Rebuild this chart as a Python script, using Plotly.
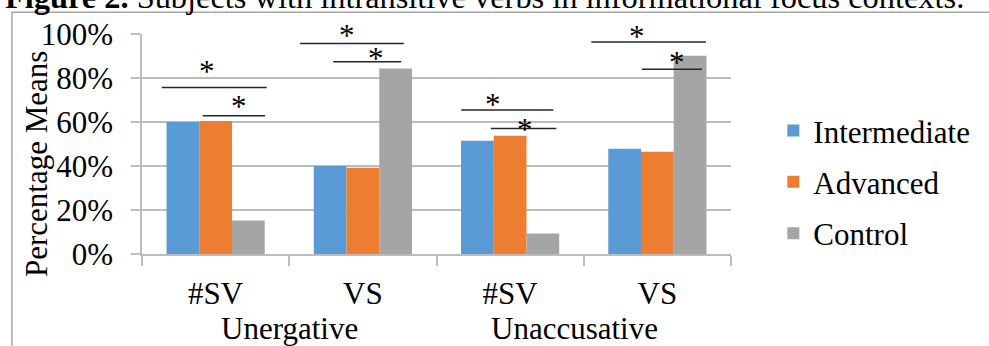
import plotly.graph_objects as go

# Category positions and labels
positions = [0, 1, 2, 3]
order_labels = ["#SV", "VS", "#SV", "VS"]
verb_types = ["Unergative", "Unaccusative"]

# Percentage means per proficiency group
intermediate = [0.60, 0.40, 0.515, 0.478]
advanced = [0.605, 0.392, 0.538, 0.465]
control = [0.152, 0.843, 0.093, 0.901]

series = [
    ("Intermediate", intermediate, "#5B9BD5"),
    ("Advanced", advanced, "#ED7D31"),
    ("Control", control, "#A5A5A5"),
]

# Significance brackets: (x start, x end, y level, asterisk x, asterisk y)
brackets = [
    (-0.366, 0.347, 0.757, -0.058, 0.850),
    (-0.088, 0.336, 0.628, 0.159, 0.690),
    (0.574, 1.278, 0.957, 0.893, 1.010),
    (0.798, 1.260, 0.874, 1.090, 0.906),
    (1.668, 2.293, 0.655, 1.885, 0.700),
    (1.869, 2.313, 0.570, 2.102, 0.582),
    (2.551, 3.330, 0.964, 2.861, 1.008),
    (2.895, 3.303, 0.840, 3.135, 0.887),
]

FONT = "Liberation Serif"
GRID = "#bdbdbd"
W, H = 989, 346
ML, MR, MT, MB = 142, 258.3, 34.3, 92.3
PW = W - ML - MR
PH = H - MT - MB


def px_x(px):
    return (px - ML) / PW


def px_y(py):
    return (H - MB - py) / PH


fig = go.Figure()
for name, vals, color in series:
    fig.add_trace(go.Bar(
        x=positions, y=vals, name=name, marker_color=color,
        marker_line_width=0, legendgroup=name,
    ))

# y range is [0, 1], so paper y coincides with the value axis
for x0, x1, y, ax, ay in brackets:
    fig.add_shape(type="line", xref="x", yref="paper", x0=x0, x1=x1, y0=y, y1=y,
                  line=dict(color="#262626", width=1.5))
    fig.add_annotation(x=ax, y=ay, xref="x", yref="paper", text="*", showarrow=False,
                       font=dict(family=FONT, size=31, color="black"),
                       xanchor="center", yanchor="middle", yshift=-4)

# Verb-type group labels under the category labels
for cx, label in zip([0.5, 2.435], verb_types):
    fig.add_annotation(x=cx, y=px_y(328), xref="x", yref="paper", text=label,
                       showarrow=False, xanchor="center", yanchor="middle",
                       font=dict(family=FONT, size=31, color="black"))

# Y-axis title
fig.add_annotation(x=px_x(36), y=px_y(164), xref="paper", yref="paper",
                   text="Percentage Means", textangle=-90, showarrow=False,
                   xanchor="center", yanchor="middle",
                   font=dict(family=FONT, size=31, color="black"))

# Figure caption
fig.add_annotation(x=px_x(3), y=px_y(17), xref="paper", yref="paper",
                   text="<b>Figure 2.</b> Subjects with intransitive verbs in informational focus contexts.",
                   showarrow=False, xanchor="left", yanchor="bottom",
                   font=dict(family=FONT, size=32.4, color="black"))

# Chart frame
fig.add_shape(type="rect", xref="paper", yref="paper",
              x0=px_x(12), x1=px_x(995), y0=px_y(360), y1=px_y(12.5),
              line=dict(color="#a6a6a6", width=1.5), layer="below")

fig.update_layout(
    width=W, height=H,
    margin=dict(l=ML, r=MR, t=MT, b=MB, pad=0),
    paper_bgcolor="white", plot_bgcolor="white",
    barmode="group", bargap=0.333, bargroupgap=0,
    font=dict(family=FONT, size=31, color="black"),
    showlegend=True,
    legend=dict(x=px_x(773), y=px_y(104), xanchor="left", yanchor="top",
                traceorder="grouped", tracegroupgap=8,
                font=dict(family=FONT, size=31, color="black"),
                bgcolor="rgba(0,0,0,0)"),
)

fig.update_xaxes(
    range=[-0.5, 3.5], tickmode="array", tickvals=positions, ticktext=order_labels,
    ticks="", showgrid=False, showline=True, linecolor=GRID, linewidth=1.5,
    ticklabelstandoff=11, zeroline=False,
    minor=dict(ticks="outside", ticklen=10, tickcolor=GRID, tickwidth=1.5,
               tick0=-0.5, dtick=1, showgrid=False),
    tickfont=dict(family=FONT, size=31, color="black"),
)
fig.update_yaxes(
    range=[0, 1], tickmode="linear", tick0=0, dtick=0.2, tickformat=".0%",
    showgrid=True, gridcolor=GRID, gridwidth=1.5, showline=True, linecolor=GRID,
    linewidth=1.5, ticks="outside", ticklen=9, tickcolor=GRID, tickwidth=1.5,
    ticklabelstandoff=12, zeroline=False,
    tickfont=dict(family=FONT, size=31, color="black"),
)

fig.write_html("out.html")
